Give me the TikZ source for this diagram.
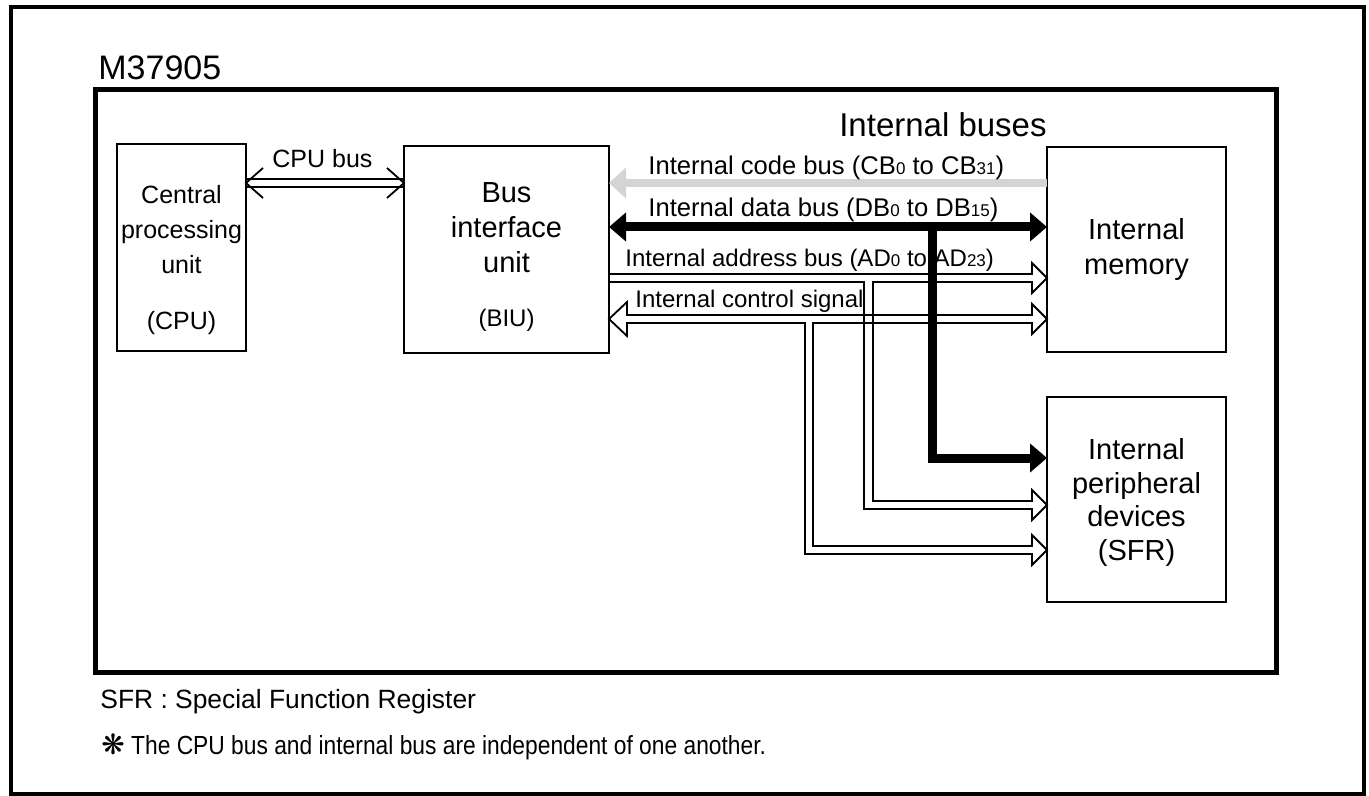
\documentclass[tikz,border=0pt]{standalone}
\usepackage{fontspec}
\setmainfont{Liberation Sans}
\newfontfamily\symfont{DejaVu Sans}
\newfontfamily\notefont[FakeStretch=0.87]{Liberation Sans}
\usetikzlibrary{calc,arrows.meta}

\definecolor{codegray}{RGB}{212,212,212}
\newcommand{\bsub}[1]{{\fontsize{8.5pt}{8.5pt}\selectfont #1}}

\begin{document}
\begin{tikzpicture}[x=0.5pt,y=-0.5pt]
  \tikzstyle{unit}=[draw, line width=1.1pt, outer sep=0pt, inner sep=0pt,
    minimum width=89.5pt, minimum height=102.5pt]
  \tikzstyle{unittext}=[align=center, inner sep=0pt, font=\fontsize{14.5pt}{17.5pt}\selectfont]
  \tikzstyle{hollow}=[line width=0.9pt, line join=miter]
  \tikzstyle{databus}=[line width=4.5pt, line join=miter,
    arrows={-Triangle[length=8.5pt,width=14pt]}]
  \tikzstyle{codebus}=[line width=4pt, draw=codegray,
    arrows={-Triangle[length=8.5pt,width=15pt]}]
  \tikzstyle{buslbl}=[inner sep=0pt, anchor=base west, font=\fontsize{12.8pt}{14pt}\selectfont]

  \useasboundingbox (0,0) rectangle (1369,796);
  \draw[line width=2pt] (10.5,7) rectangle (1363.5,793.5);
  \draw[line width=2.5pt] (95,90) rectangle (1276,672);
  \node[anchor=base west, inner sep=0pt, font=\fontsize{17pt}{17pt}\selectfont] (chip) at (98,80) {M37905};

  % blocks
  \node[unit, minimum width=64.5pt, minimum height=103.5pt] (cpu) at (181.5,247.5) {};
  \node[unit, minimum width=102.5pt, minimum height=103.5pt] (biu) at (506.5,249.5) {};
  \node[unit] (mem) at (1136.5,249.5) {};
  \node[unit] (per) at (1136.5,499.5) {};

  \node[unittext, font=\fontsize{12.5pt}{17.5pt}\selectfont] (cputxt) at (181.5,230) {Central\\processing\\unit};
  \node[unittext, font=\fontsize{12.5pt}{14pt}\selectfont] (cpuabbr) at (181.5,323) {(CPU)};
  \node[unittext] (biutxt) at (506.5,228) {Bus\\interface\\unit};
  \node[unittext, font=\fontsize{12pt}{14pt}\selectfont] (biuabbr) at (506.5,320) {(BIU)};
  \node[unittext] (memtxt) at (mem.center) {Internal\\memory};
  \node[unittext, font=\fontsize{14.5pt}{16.9pt}\selectfont] (pertxt) at (1136.5,502.5) {Internal\\peripheral\\devices\\(SFR)};

  % CPU bus
  \draw[hollow] (cpu.east |- 0,179) -- (biu.west |- 0,179);
  \draw[hollow] (cpu.east |- 0,187) -- (biu.west |- 0,187);
  \draw[hollow] (263,168) -- (cpu.east |- 0,183) -- (263,198);
  \draw[hollow] (387,168) -- (biu.west |- 0,183) -- (387,198);
  \node[buslbl, font=\fontsize{12.5pt}{14pt}\selectfont] (cpubus) at (272,168) {CPU bus};

  % internal buses
  \node[anchor=base east, inner sep=0pt, font=\fontsize{16.5pt}{16.5pt}\selectfont] (intbuses) at (1047,137) {Internal buses};
  \draw[codebus] (mem.west |- 0,183) -- (biu.east |- 0,183);

  % address bus
  \draw[hollow] (biu.east |- 0,274) -- (1032,274) -- (1032,263) -- (mem.west |- 0,278)
    -- (1032,293) -- (1032,282) -- (873,282) -- (873,501) -- (1032,501) -- (1032,490)
    -- (per.west |- 0,505) -- (1032,520) -- (1032,509) -- (864,509) -- (864,282)
    -- (biu.east |- 0,282);
  % control signal
  \draw[hollow] (biu.east |- 0,319) -- (627,302) -- (627,315) -- (1032,315) -- (1032,304)
    -- (mem.west |- 0,319) -- (1032,334) -- (1032,323) -- (813,323) -- (813,546)
    -- (1032,546) -- (1032,535) -- (per.west |- 0,550) -- (1032,565) -- (1032,554)
    -- (805,554) -- (805,323) -- (627,323) -- (627,336) -- cycle;

  % data bus
  \draw[databus, arrows={Triangle[length=8.5pt,width=14pt]-Triangle[length=8.5pt,width=14pt]}]
    (biu.east |- 0,227) -- (mem.west |- 0,227);
  \draw[databus] (932,223) |- (per.west |- 0,458);

  \node[buslbl] (cblbl) at (648,175) {Internal code bus (CB\bsub{0} to CB\bsub{31})};
  \node[buslbl] (dblbl) at (648,217) {Internal data bus (DB\bsub{0} to DB\bsub{15})};
  \node[buslbl, font=\fontsize{12pt}{14pt}\selectfont] (adlbl) at (625,267) {Internal address bus (AD\bsub{0} to AD\bsub{23})};
  \node[buslbl, font=\fontsize{12pt}{14pt}\selectfont] (ctlbl) at (635,308) {Internal control signal};

  % notes
  \node[anchor=base west, inner sep=0pt, font=\fontsize{13.2pt}{15pt}\selectfont] (sfrnote) at (100,708) {SFR : Special Function Register};
  \node[anchor=base west, inner sep=0pt, font=\notefont\fontsize{13.1pt}{15pt}\selectfont] (busnote) at (101,754) {{\symfont\fontsize{14pt}{14pt}\selectfont ❋} The CPU bus and internal bus are independent of one another.};
\end{tikzpicture}
\end{document}
